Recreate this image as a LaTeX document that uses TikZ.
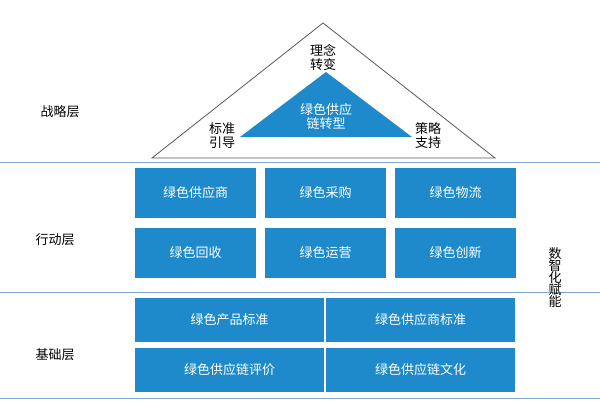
\documentclass[tikz,border=0pt]{standalone}
\usepackage{fontspec}
\newfontfamily\cjk{Noto Sans CJK SC}
\definecolor{bb}{HTML}{1E8ACB}
\definecolor{ln}{HTML}{7FA9CF}
\begin{document}
\begin{tikzpicture}[x=1pt,y=-1pt,font=\cjk\fontsize{13}{16}\selectfont,
  box/.style={fill=bb,text=white,draw=none},
  sep/.style={draw=ln,line width=1pt},
  lbl/.style={text=black,align=center}]
\useasboundingbox (0,0) rectangle (600,410);
\coordinate (l1) at (0,162); \coordinate (r1) at (600,162);
\coordinate (l2) at (0,292); \coordinate (r2) at (600,292);
\coordinate (l3) at (0,398); \coordinate (r3) at (600,398);
\draw[sep] (l1)--(r1); \draw[sep] (l2)--(r2); \draw[sep] (l3)--(r3);
\coordinate (oa) at (323,23); \coordinate (ob) at (152,158); \coordinate (oc) at (495,158);
\draw[gray!70!black,line width=0.8pt] (oa)--(ob)--(oc)--cycle;
\coordinate (ia) at (326,72); \coordinate (ib) at (240,137); \coordinate (ic) at (412,137);
\fill[bb] (ia)--(ib)--(ic)--cycle;
\node[lbl,text=white] (core) at (326,117) {绿色供应\\[-2pt]链转型};
\node[lbl] (t1) at (323,57) {理念\\[-2pt]转变};
\node[lbl] (t2) at (222,136) {标准\\[-2pt]引导};
\node[lbl] (t3) at (428,136) {策略\\[-2pt]支持};
\node[lbl] (s1) at (60,112) {战略层};
\node[lbl] (s2) at (55,240) {行动层};
\node[lbl] (s3) at (55,355) {基础层};
\node[lbl] (s4) at (555,278) {数\\[-4pt]智\\[-4pt]化\\[-4pt]赋\\[-4pt]能};
\foreach \n/\x/\y/\t in {a/135/168/绿色供应商,b/265/168/绿色采购,c/395/168/绿色物流,
  d/135/228/绿色回收,e/265/228/绿色运营,f/395/228/绿色创新}{
  \path[box] (\x,\y) rectangle ++(121,50);
  \node[text=white] (\n) at (\x+60.5,\y+25) {\t};}
\foreach \n/\x/\y/\t in {g/135/298/绿色产品标准,h/326/298/绿色供应商标准,
  i/135/348/绿色供应链评价,j/326/348/绿色供应链文化}{
  \path[box] (\x,\y) rectangle ++(189,44);
  \node[text=white] (\n) at (\x+94.5,\y+22) {\t};}
\end{tikzpicture}
\end{document}
